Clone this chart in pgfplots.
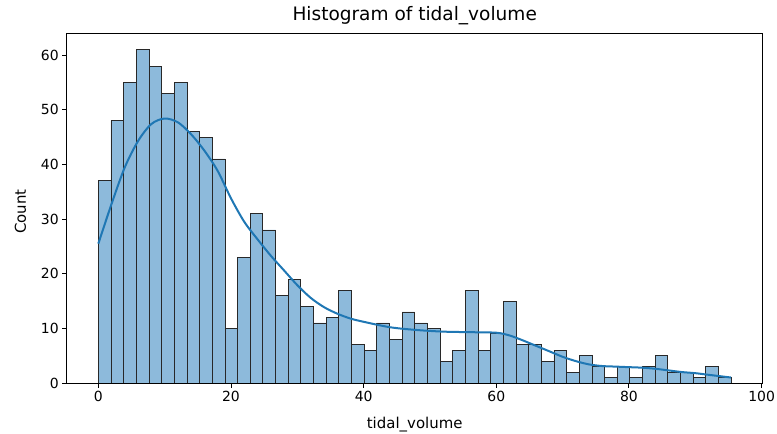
\documentclass[border=0pt]{standalone}
\usepackage{fontspec}
\setmainfont{DejaVu Sans}
\usepackage{pgfplots}
\pgfplotsset{compat=1.18}
\definecolor{barfill}{RGB}{141,186,219}
\definecolor{baredge}{RGB}{40,40,40}
\definecolor{kdeblue}{RGB}{31,119,180}

% histogram: left bin edge, count (last row closes the final bin)
\pgfplotstableread{
x y
0 37
1.908 48
3.816 55
5.724 61
7.632 58
9.54 53
11.448 55
13.356 46
15.264 45
17.172 41
19.08 10
20.988 23
22.896 31
24.804 28
26.712 16
28.62 19
30.528 14
32.436 11
34.344 12
36.252 17
38.16 7
40.068 6
41.976 11
43.884 8
45.792 13
47.7 11
49.608 10
51.516 4
53.424 6
55.332 17
57.24 6
59.148 9
61.056 15
62.964 7
64.872 7
66.78 4
68.688 6
70.596 2
72.504 5
74.412 3
76.32 1
78.228 3
80.136 1
82.044 3
83.952 5
85.86 2
87.768 2
89.676 1
91.584 3
93.492 1
95.4 1
}\histdata

% kde curve (in counts)
\pgfplotstableread{
x y
0 25.5
2 32.8
4 39.5
6 44.3
8 47.4
10 48.4
12 47.7
14 45.5
16 42.5
18 38.8
20 33.8
22 29.5
24 26.3
26 23.3
28 20.6
30 17.9
32 15.6
34 13.9
36 12.7
38 11.8
40 11.2
44 10.2
48 9.7
52 9.4
56 9.3
60 9.2
62 8.7
64 7.8
66 6.8
68 5.8
70 4.8
72 4.0
74 3.4
76 3.1
78 3.0
80 2.9
82 2.8
84 2.6
86 2.3
88 2.0
90 1.8
92 1.5
95.4 1.0
}\kdedata

\begin{document}
\begin{tikzpicture}
\useasboundingbox (-66.7bp,-51bp) rectangle (710.3bp,383bp);
\begin{axis}[
  at={(0,0)}, anchor=south west,
  width=696bp, height=350bp, scale only axis,
  xmin=-4.77, xmax=100.17, ymin=0, ymax=64.05,
  xtick={0,20,...,100}, ytick={0,10,...,60},
  tick pos=left, tick align=outside,
  major tick length=4.5bp,
  every tick/.style={black, line width=0.9bp},
  axis line style={line width=0.9bp},
  title={Histogram of tidal\_volume},
  xlabel={tidal\_volume}, ylabel={Count},
  label style={font=\fontsize{15}{18}\selectfont},
  ticklabel style={font=\fontsize{14}{17}\selectfont},
  title style={font=\fontsize{18.6}{22}\selectfont,
    at={(axis description cs:0.5,1.02)}, anchor=base},
  xlabel style={at={(axis description cs:0.5,-0.1286)}, anchor=base},
  ylabel style={at={(axis description cs:-0.0585,0.49)}, anchor=base},
  /pgf/number format/assume math mode=true,
]
\addplot[ybar interval, fill=barfill, draw=baredge, line width=0.7bp] table {\histdata};
\addplot[kdeblue, line width=2bp, smooth] table {\kdedata};
\end{axis}
\end{tikzpicture}
\end{document}
